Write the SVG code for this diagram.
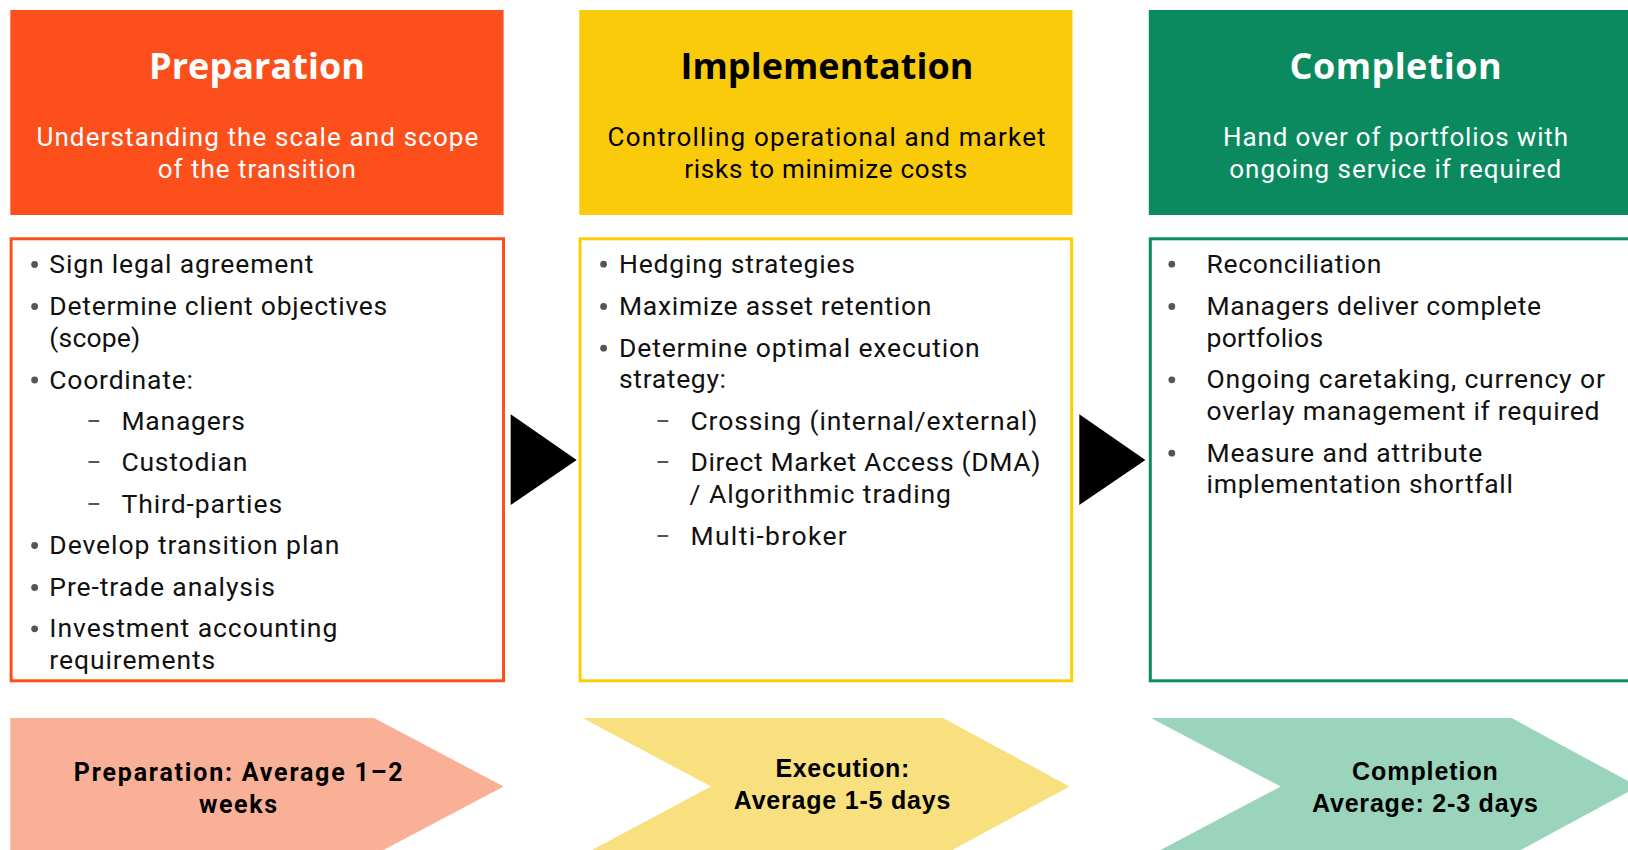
<svg xmlns="http://www.w3.org/2000/svg" width="1628" height="850" viewBox="0 0 1628 850">
<style>
.title{font-family:"Open Sans","Noto Sans",sans-serif;font-weight:700;font-size:36px;text-anchor:middle}
.sub{font-family:Roboto,"Liberation Sans",sans-serif;font-size:26px;text-anchor:middle}
.body{font-family:Roboto,"Liberation Sans",sans-serif;font-size:26.5px;fill:#111}
.dash{font-family:Roboto,"Liberation Sans",sans-serif;font-size:26px;fill:#555}
.bul{fill:#555}
.lblA{font-family:Roboto,"Liberation Sans",sans-serif;font-weight:700;font-size:25px;text-anchor:middle;fill:#000}
.lblB{font-family:"Liberation Sans",Arial,sans-serif;font-weight:700;font-size:25px;text-anchor:middle;fill:#000}
.white{fill:#fff}
.black{fill:#000}
</style>
<rect width="1628" height="850" fill="#fff"/>

<!-- Preparation column -->
<g id="prep-header">
<rect x="10.3" y="10" width="493.3" height="205" fill="#FC4F1C"/>
<text class="title white" x="257" y="79.3" textLength="216">Preparation</text>
<text class="sub white" x="257.4" y="145.7" textLength="442">Understanding the scale and scope</text>
<text class="sub white" x="256.8" y="177.7" textLength="198">of the transition</text>
</g>
<g id="prep-body">
<rect x="11.1" y="238.8" width="492.4" height="442" fill="#fff" stroke="#FC4F1C" stroke-width="3"/>
<circle class="bul" cx="34.6" cy="264.5" r="3.4"/>
<circle class="bul" cx="34.6" cy="306.5" r="3.4"/>
<circle class="bul" cx="34.6" cy="380" r="3.4"/>
<circle class="bul" cx="34.6" cy="545.5" r="3.4"/>
<circle class="bul" cx="34.6" cy="587.5" r="3.4"/>
<circle class="bul" cx="34.6" cy="628.8" r="3.4"/>
<text class="body" x="49.3" y="273" textLength="264">Sign legal agreement</text>
<text class="body" x="49.3" y="315" textLength="338">Determine client objectives</text>
<text class="body" x="49.3" y="346.7" textLength="91">(scope)</text>
<text class="body" x="49.3" y="388.5" textLength="143.6">Coordinate:</text>
<text class="dash" x="86.8" y="430" textLength="14.3" lengthAdjust="spacingAndGlyphs">–</text>
<text class="body" x="121.4" y="430" textLength="123.6">Managers</text>
<text class="dash" x="86.8" y="471.3" textLength="14.3" lengthAdjust="spacingAndGlyphs">–</text>
<text class="body" x="121.4" y="471.3" textLength="126">Custodian</text>
<text class="dash" x="86.8" y="512.7" textLength="14.3" lengthAdjust="spacingAndGlyphs">–</text>
<text class="body" x="121.4" y="512.7" textLength="160.7">Third-parties</text>
<text class="body" x="49.3" y="554" textLength="290">Develop transition plan</text>
<text class="body" x="49.3" y="596" textLength="225.7">Pre-trade analysis</text>
<text class="body" x="49.3" y="637.3" textLength="288">Investment accounting</text>
<text class="body" x="49.3" y="669.3" textLength="166">requirements</text>
</g>
<g id="prep-duration">
<polygon points="10.3,718 374,718 503.6,786.5 374,855 10.3,855" fill="#F9B096"/>
<text class="lblA" x="238.2" y="781" textLength="328.7">Preparation: Average 1–2</text>
<text class="lblA" x="238" y="812.7" textLength="78">weeks</text>
</g>

<!-- Implementation column -->
<g id="impl-header">
<rect x="579.3" y="10" width="493.2" height="205" fill="#F9CB0A"/>
<text class="title black" x="827" y="79.3" textLength="293">Implementation</text>
<text class="sub black" x="826.6" y="145.7" textLength="438">Controlling operational and market</text>
<text class="sub black" x="825.7" y="177.7" textLength="283">risks to minimize costs</text>
</g>
<g id="impl-body">
<rect x="580.1" y="238.8" width="491.6" height="442" fill="#fff" stroke="#FFCE00" stroke-width="3"/>
<circle class="bul" cx="603.6" cy="264.2" r="3.4"/>
<circle class="bul" cx="603.6" cy="306.5" r="3.4"/>
<circle class="bul" cx="603.6" cy="348.2" r="3.4"/>
<text class="body" x="619" y="272.7" textLength="236">Hedging strategies</text>
<text class="body" x="619" y="315" textLength="312.4">Maximize asset retention</text>
<text class="body" x="619" y="356.7" textLength="360.6">Determine optimal execution</text>
<text class="body" x="619" y="388.3" textLength="107">strategy:</text>
<text class="dash" x="655.7" y="430" textLength="14.3" lengthAdjust="spacingAndGlyphs">–</text>
<text class="body" x="690.4" y="430" textLength="347">Crossing (internal/external)</text>
<text class="dash" x="655.7" y="471.3" textLength="14.3" lengthAdjust="spacingAndGlyphs">–</text>
<text class="body" x="690.4" y="471.3" textLength="350">Direct Market Access (DMA)</text>
<text class="body" x="689.5" y="503.3" textLength="261.5">/ Algorithmic trading</text>
<text class="dash" x="655.7" y="545" textLength="14.3" lengthAdjust="spacingAndGlyphs">–</text>
<text class="body" x="690.4" y="545" textLength="156.4">Multi-broker</text>
</g>
<g id="impl-duration">
<polygon points="582.5,718 943,718 1069.5,786.5 943,855 582.5,855 711,786.5" fill="#F8E07E"/>
<text class="lblB" x="842.4" y="777.3" textLength="134">Execution:</text>
<text class="lblB" x="842" y="809" textLength="216.6">Average 1-5 days</text>
</g>

<!-- Completion column -->
<g id="comp-header">
<rect x="1148.8" y="10" width="493" height="205" fill="#0A8A5E"/>
<text class="title white" x="1395.6" y="79.3" textLength="212">Completion</text>
<text class="sub white" x="1395.5" y="145.7" textLength="345">Hand over of portfolios with</text>
<text class="sub white" x="1395.2" y="177.7" textLength="332">ongoing service if required</text>
</g>
<g id="comp-body">
<rect x="1150.3" y="238.8" width="600" height="442" fill="#fff" stroke="#0A8C5F" stroke-width="3"/>
<circle class="bul" cx="1171.8" cy="264.2" r="3.4"/>
<circle class="bul" cx="1171.8" cy="306.5" r="3.4"/>
<circle class="bul" cx="1171.8" cy="379.8" r="3.4"/>
<circle class="bul" cx="1171.8" cy="453.2" r="3.4"/>
<text class="body" x="1206.5" y="272.7" textLength="175">Reconciliation</text>
<text class="body" x="1206.5" y="315" textLength="334.6">Managers deliver complete</text>
<text class="body" x="1206.5" y="346.7" textLength="116.6">portfolios</text>
<text class="body" x="1206.5" y="388.3" textLength="398.4">Ongoing caretaking, currency or</text>
<text class="body" x="1206.5" y="420" textLength="393">overlay management if required</text>
<text class="body" x="1206.5" y="461.7" textLength="275.8">Measure and attribute</text>
<text class="body" x="1206.5" y="493.3" textLength="306.5">implementation shortfall</text>
</g>
<g id="comp-duration">
<polygon points="1151,718 1511.6,718 1638,786.5 1511.6,855 1151,855 1280.7,786.5" fill="#9BD4BC"/>
<text class="lblB" x="1425" y="780" textLength="145.8">Completion</text>
<text class="lblB" x="1425" y="811.7" textLength="226">Average: 2-3 days</text>
</g>

<g id="connectors">
<polygon points="510.7,414.3 576.7,460 510.7,505" fill="#000"/>
<polygon points="1079.3,414.3 1145.4,460 1079.3,505" fill="#000"/>
</g>
</svg>
